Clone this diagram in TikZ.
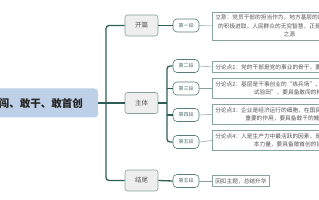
\documentclass[tikz,border=0pt]{standalone}
\usepackage{fontspec}
\setmainfont{Noto Sans CJK SC}
\definecolor{linedark}{HTML}{2E5C57}
\definecolor{linelight}{HTML}{86A39F}
\definecolor{boxgray}{HTML}{EDEEED}
\definecolor{rootblue}{HTML}{BED0E7}
\definecolor{txtgray}{HTML}{555555}
\definecolor{segtxt}{HTML}{4F716C}

\begin{document}
\begin{tikzpicture}[x=1pt, y=-1pt,
    rootbox/.style = {rectangle, rounded corners=3pt, fill=rootblue, text=black!85,
        font=\fontsize{10.5}{12}\selectfont\bfseries, minimum height=29pt, inner xsep=15pt},
    partbox/.style = {rectangle, rounded corners=2.5pt, draw=linelight, fill=boxgray,
        line width=0.6pt, text=txtgray, font=\fontsize{6.5}{8}\selectfont,
        minimum width=33pt, minimum height=21pt, inner sep=0pt},
    segbox/.style = {rectangle, rounded corners=4pt, draw=linedark!80, fill=white,
        line width=0.6pt, text=segtxt, font=\fontsize{5}{6}\selectfont,
        minimum width=26pt, minimum height=13pt, inner sep=0pt},
    notebox/.style = {rectangle, draw=linelight, fill=white, line width=0.5pt,
        text=txtgray, font=\fontsize{5.7}{8.5}\selectfont, align=center,
        inner xsep=3pt, inner ysep=2.8pt, anchor=west},
    trunk/.style = {draw=linedark, line width=1.3pt, rounded corners=3pt},
    noteline/.style = {draw=linelight, line width=0.5pt}
]
\useasboundingbox (0,0) rectangle (319,200);
\clip (0,0) rectangle (319,200);

% root
\node[rootbox, anchor=east] (root) at (98,103) {敢闯、敢干、敢首创};

% parts
\node[partbox] (kaipian) at (141.5,25.5) {开篇};
\node[partbox] (zhuti) at (141.5,103) {主体};
\node[partbox] (jiewei) at (141.5,180.5) {结尾};

% segments
\node[segbox] (duan1) at (186,25.5) {第一段};
\node[segbox] (duan2) at (186,66) {第二段};
\node[segbox] (duan3) at (186,88.5) {第三段};
\node[segbox] (duan4) at (186,115) {第四段};
\node[segbox] (duan5) at (186,142) {第五段};
\node[segbox] (duan6) at (186,181) {第五段};

% notes
\node[notebox] (note1) at (212,26) {立意：党员干部的担当作为，地方基层的敢闯敢试，企业家\\的积极进取，人民群众的无穷智慧，正是推动发展的动力\\之源};
\node[notebox] (note2) at (212,67) {分论点1：党的干部是党的事业的骨干，要具备敢闯的勇气};
\node[notebox] (note3) at (212,88.5) {分论点2：基层是干事创业的“练兵场”、改革发展的前沿“\\试验田”，要具备敢闯的精神};
\node[notebox] (note4) at (212,114.5) {分论点3：企业是经济运行的细胞，在国民经济中发挥着\\重要的作用，要具备敢干的魄力};
\node[notebox] (note5) at (212,140.5) {分论点4：人是生产力中最活跃的因素，是推动社会发展的根\\本力量，要具备敢首创的锐气};
\node[notebox] (note6) at (212,181) {回扣主题，总结升华};

% connectors
\coordinate (hub) at (106,103);
\coordinate (sub) at (167,103);
\draw[trunk] (root.east) -- (zhuti.west);
\draw[trunk] (kaipian.west) -| (hub) |- (jiewei.west);
\draw[trunk] (kaipian.east) -- (duan1.west);
\draw[trunk] (jiewei.east) -- (duan6.west);
\draw[trunk] (zhuti.east) -- (sub);
\draw[trunk] (duan2.west) -| (sub) |- (duan5.west);
\draw[trunk] (sub|-duan3.west) -- (duan3.west);
\draw[trunk] (sub|-duan4.west) -- (duan4.west);
\foreach \i in {1,...,6}
    \draw[noteline] (duan\i.east) -- (note\i.west);
\end{tikzpicture}
\end{document}
